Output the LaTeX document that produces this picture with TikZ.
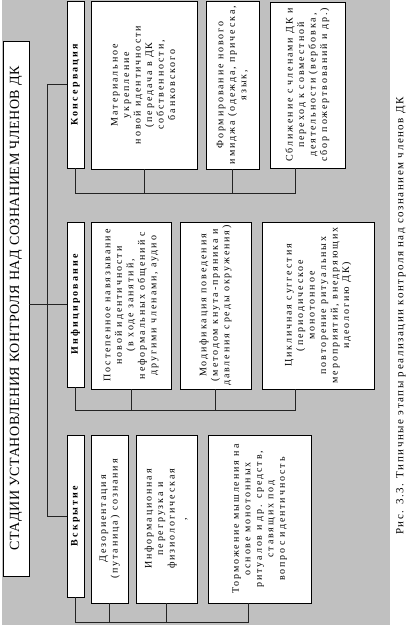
\documentclass[tikz,border=0pt]{standalone}
\usepackage{fontspec}
\setmainfont{Liberation Serif}
\newfontfamily\boxfont[LetterSpace=19]{Liberation Serif}
\newfontfamily\headfont[LetterSpace=22]{Liberation Serif}
\newfontfamily\titlefont[LetterSpace=4]{Liberation Serif}
\newfontfamily\capfont[LetterSpace=14]{Liberation Serif}
\definecolor{bggray}{RGB}{192,192,192}
\definecolor{lineclr}{RGB}{35,35,35}
\newcommand{\lns}[1]{\begin{tabular}{@{}c@{}}#1\end{tabular}}
\newcommand{\subtxt}[1]{{\boxfont\fontsize{10}{11.5}\selectfont\lns{#1}}}
\newcommand{\headtxt}[1]{{\headfont\bfseries\fontsize{10}{11}\selectfont #1}}
\newcommand{\dkbox}[6]{%
  \node[box, minimum width={(#4-#2)*1pt}, minimum height={(#5-#3)*1pt}]
    (#1) at ({(#2+#4)/2},{-(#3+#5)/2}) {\rotatebox{90}{#6}};}
\begin{document}
\begin{tikzpicture}[x=1pt,y=1pt,
  box/.style={draw=black, fill=white, line width=0.8pt, inner sep=0pt, outer sep=0pt},
  conn/.style={draw=lineclr, line width=0.9pt}]
\useasboundingbox (0,0) rectangle (416,-627);
\fill[white] (0,0) rectangle (416,-627);
\fill[bggray] (1.5,0) rectangle (390,-625);

% title
\dkbox{T}{3}{41}{29}{576}{{\titlefont\fontsize{14}{16}\selectfont СТАДИИ УСТАНОВЛЕНИЯ КОНТРОЛЯ НАД СОЗНАНИЕМ ЧЛЕНОВ ДК}}

% stage headers
\dkbox{hK}{67}{1}{84}{168}{\headtxt{Консервация}}
\dkbox{hI}{67}{222}{84}{387}{\headtxt{Инфицирование}}
\dkbox{hV}{67}{435}{84}{597}{\headtxt{Вскрытие}}

% Konservatsiya
\dkbox{k1}{91}{1}{197}{169}{\subtxt{Материальное\\укрепление\\новой идентичности\\(передача в ДК\\собственности,\\банковского}}
\dkbox{k2}{206}{1}{259}{169}{\subtxt{Формирование нового\\имиджа (одежда, прическа,\\язык,}}
\dkbox{k3}{270}{2}{345}{168}{\subtxt{Сближение с членами ДК и\\переход к совместной\\деятельности (вербовка,\\сбор пожертвований и др.)}}

% Infitsirovanie
\dkbox{i1}{91}{222}{171}{389}{\subtxt{Постепенное навязывание\\новой идентичности\\(в ходе занятий,\\неформальных общений с\\другими членами, аудио}}
\dkbox{i2}{180}{222}{251}{389}{\subtxt{Модификация поведения\\(методом кнута-пряника и\\давления среды окружения)}}
\dkbox{i3}{262}{222}{374}{389}{\subtxt{Цикличная суггестия\\(периодическое\\монотонное\\повторение ритуальных\\мероприятий, внедряющих\\идеологию ДК)}}

% Vskrytie
\dkbox{v1}{91}{435}{128}{603}{\subtxt{Дезориентация\\(путаница) сознания}}
\dkbox{v2}{136}{435}{197}{603}{\subtxt{Информационная\\перегрузка и\\физиологическая\\,}}
\dkbox{v3}{208}{435}{311}{603}{\subtxt{Торможение мышления на\\основе монотонных\\ритуалов и др. средств,\\ставящих под\\вопрос идентичность}}

% main spine
\coordinate (spine) at (47,0);
\draw[conn] (hK.west) -- (hK.west -| spine) -- (hV.west -| spine) -- (hV.west);
\draw[conn] (T.east |- hI.west) -- (hI.west);

% buses
\coordinate (kbus) at (295,-193);
\draw[conn] (hK.south) |- (kbus) -- (kbus |- k3.south);
\draw[conn] (k1.south) -- (k1.south |- kbus);
\draw[conn] (k2.south) -- (k2.south |- kbus);

\coordinate (ibus) at (295,-410);
\draw[conn] (hI.south) |- (ibus) -- (ibus |- i3.south);
\draw[conn] (i1.south) -- (i1.south |- ibus);
\draw[conn] (i2.south) -- (i2.south |- ibus);

\coordinate (vbus) at (248,-622);
\draw[conn] (hV.south) |- (vbus) -- (vbus |- v3.south);
\draw[conn] (v1.south) -- (v1.south |- vbus);
\draw[conn] (v2.south) -- (v2.south |- vbus);

% caption
\node[rotate=90, inner sep=0pt] (cap) at (401,-316) {\capfont\fontsize{11}{13}\selectfont Рис. 3.3. Типичные этапы реализации контроля над сознанием членов ДК};
\end{tikzpicture}
\end{document}
